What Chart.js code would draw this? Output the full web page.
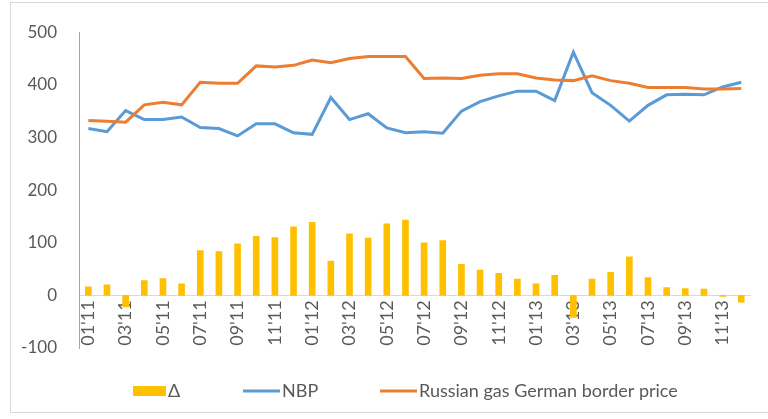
<!DOCTYPE html>
<html>
<head>
<meta charset="utf-8">
<script src="https://cdn.jsdelivr.net/npm/chart.js@4.4.1/dist/chart.umd.min.js"></script>
<style>
  body { margin: 0; background: #fff; }
  #wrap { position: relative; width: 768px; height: 419px; overflow: hidden; }
  #frame { position: absolute; left: 10px; top: 2px; width: 780px; height: 409px; border: 1px solid #d9d9d9; pointer-events: none; }
</style>
</head>
<body>
<div id="wrap">
  <canvas id="gasChart" width="768" height="419"></canvas>
  <div id="frame"></div>
</div>
<script>
const months = [
    "01'11", "02'11", "03'11", "04'11", "05'11", "06'11", "07'11", "08'11", "09'11", "10'11", "11'11", "12'11",
    "01'12", "02'12", "03'12", "04'12", "05'12", "06'12", "07'12", "08'12", "09'12", "10'12", "11'12", "12'12",
    "01'13", "02'13", "03'13", "04'13", "05'13", "06'13", "07'13", "08'13", "09'13", "10'13", "11'13", "12'13"
];

// Russian gas price minus NBP
const delta = [
    16, 20, -22, 28, 32, 22, 85, 83, 98, 112, 110, 130,
    139, 65, 117, 109, 136, 143, 100, 104, 59, 48, 42, 31,
    22, 38, -42, 31, 44, 73, 34, 15, 13, 12, -2, -13
];

const nbp = [
    317, 311, 351, 334, 334, 339, 319, 317, 303, 326, 326, 309,
    306, 376, 334, 345, 318, 309, 311, 308, 350, 368, 379, 388,
    388, 370, 462, 385, 361, 331, 361, 381, 382, 381, 396, 405
];

const russianPrice = [
    332, 331, 329, 362, 367, 362, 405, 403, 403, 436, 434, 437,
    447, 442, 450, 454, 454, 454, 412, 413, 412, 418, 421, 421,
    413, 409, 408, 417, 408, 403, 395, 395, 395, 392, 392, 393
];

const yTicks = [-100, 0, 100, 200, 300, 400, 500];

const textColor = '#595959';
const fontFamily = 'Lato, "Open Sans", sans-serif';

// legend drawn by hand so the item spacing matches the original
const legendItems = [
    { dataset: 0, x: 133, textX: 168 },
    { dataset: 1, x: 243, textX: 282 },
    { dataset: 2, x: 380, textX: 419 }
];

const bottomLegend = {
    id: 'bottomLegend',
    afterDraw(chart) {
        const ctx = chart.ctx;
        const y = 391;
        ctx.save();
        ctx.font = '18px ' + fontFamily;
        ctx.textBaseline = 'middle';
        legendItems.forEach(item => {
            const ds = chart.data.datasets[item.dataset];
            if (ds.type === 'line') {
                ctx.strokeStyle = ds.borderColor;
                ctx.lineWidth = 3;
                ctx.beginPath();
                ctx.moveTo(item.x, y);
                ctx.lineTo(item.textX - 2, y);
                ctx.stroke();
            } else {
                ctx.fillStyle = ds.backgroundColor;
                ctx.fillRect(item.x, y - 5, item.textX - item.x - 2, 10);
            }
            ctx.fillStyle = textColor;
            ctx.fillText(ds.label, item.textX, y);
        });
        ctx.restore();
    }
};

const ctx = document.getElementById('gasChart').getContext('2d');
const chart = new Chart(ctx, {
    type: 'bar',
    data: {
        labels: months,
        datasets: [
            {
                type: 'bar',
                label: 'Δ',
                data: delta,
                backgroundColor: '#FFC000',
                barThickness: 6,
                order: 3
            },
            {
                type: 'line',
                label: 'NBP',
                data: nbp,
                borderColor: '#5B9BD5',
                backgroundColor: '#5B9BD5',
                borderWidth: 3,
                pointRadius: 0,
                tension: 0,
                order: 2
            },
            {
                type: 'line',
                label: 'Russian gas German border price',
                data: russianPrice,
                borderColor: '#ED7D31',
                backgroundColor: '#ED7D31',
                borderWidth: 3,
                pointRadius: 0,
                tension: 0,
                order: 1
            }
        ]
    },
    options: {
        responsive: false,
        animation: false,
        layout: { padding: { left: 0, right: 11, top: 24, bottom: 71 } },
        plugins: {
            legend: { display: false },
            tooltip: { enabled: false }
        },
        scales: {
            x: {
                position: { y: 0 },
                offset: true,
                grid: { display: false, drawTicks: false },
                border: { display: true, color: '#d9d9d9', width: 1 },
                ticks: {
                    autoSkip: false,
                    minRotation: 90,
                    maxRotation: 90,
                    padding: 5,
                    color: textColor,
                    font: { family: fontFamily, size: 18 },
                    callback: (value, index) => index % 2 === 0 ? months[index] : ''
                }
            },
            y: {
                min: yTicks[0],
                max: yTicks[yTicks.length - 1],
                afterBuildTicks: scale => { scale.ticks = yTicks.map(v => ({ value: v })); },
                afterFit: scale => { scale.width = 79; },
                grid: { display: false, drawTicks: false },
                border: { display: true, color: '#a6a6a6', width: 1 },
                ticks: {
                    padding: 22,
                    color: textColor,
                    font: { family: fontFamily, size: 17 }
                }
            }
        }
    },
    plugins: [bottomLegend]
});
</script>
</body>
</html>
